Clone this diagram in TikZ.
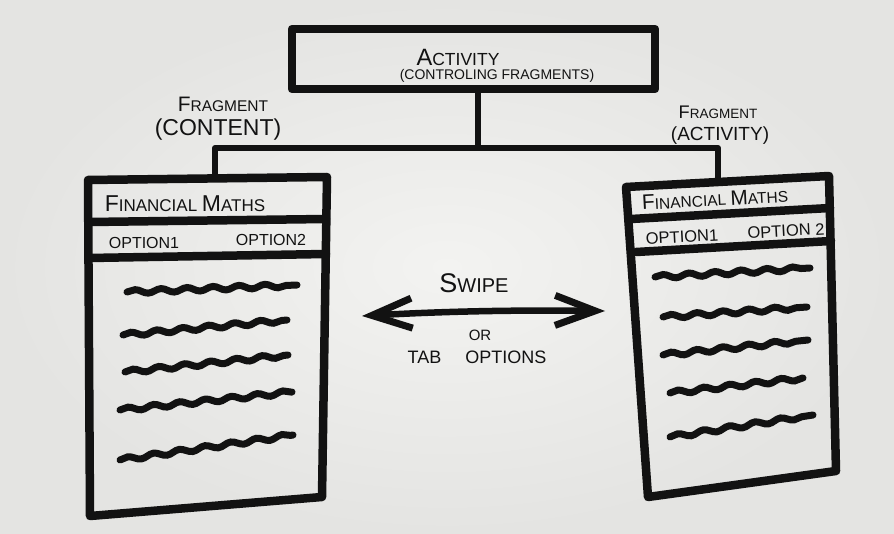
\documentclass[tikz,border=0pt]{standalone}
\usepackage{fontspec}
\setmainfont{Liberation Sans}
\usetikzlibrary{arrows.meta,decorations.pathmorphing}

% enlarged initial letter, marker-lettering style
\newcommand\capA[1]{\scalebox{1.35}{#1}}

\definecolor{paper}{RGB}{243,243,241}
\definecolor{paperedge}{RGB}{228,228,226}
\definecolor{ink}{RGB}{18,18,18}

\tikzset{
  marker/.style={draw=ink, line width=8.5pt, line cap=round, line join=round},
  link/.style={draw=ink, line width=6pt, line cap=round, line join=round},
  scrib/.style={draw=ink, line width=7pt, line cap=round,
    decorate, decoration={snake, amplitude=2pt, segment length=26pt}},
  hand/.style={inner sep=0pt, text=ink},
  barb/.tip={Straight Barb[length=40pt, width=30pt, line width=7pt]}
}

\begin{document}
\begin{tikzpicture}[x=1pt, y=-1pt]
  % paper
  \shade[inner color=paper, outer color=paperedge] (0,0) rectangle (894,534);
  \useasboundingbox (0,0) rectangle (894,534);

  % activity box
  \node[marker, rectangle, minimum width=363pt, minimum height=60pt] (act) at (473.5,59) {};
  \node[hand, font=\fontsize{17.5}{19}\selectfont] (actt1) at (458,57) {\capA{A}CTIVITY};
  \node[hand, font=\fontsize{14}{16}\selectfont] (actt2) at (497,76) {(CONTROLING FRAGMENTS)};

  % left panel outline and rows
  \coordinate (lTL) at (88,180);
  \coordinate (lTR) at (327,177);
  \coordinate (lBR) at (322,497);
  \coordinate (lBL) at (90,516);
  \draw[marker] (lTL) -- (lTR) -- (lBR) -- (lBL) -- cycle;
  \draw[marker] (89,222) -- (326,219);
  \draw[marker] (89,258) -- (326,254);

  % right panel outline and rows
  \coordinate (rTL) at (626,187);
  \coordinate (rTR) at (829,176);
  \coordinate (rBR) at (836,471);
  \coordinate (rBL) at (648,497);
  \draw[marker] (rTL) -- (rTR) -- (rBR) -- (rBL) -- cycle;
  \draw[marker] (631,219) -- (830,208);
  \draw[marker] (636,252) -- (831,241);

  % tree connectors
  \coordinate (jn) at (478,148);
  \coordinate (lptop) at (215,179);
  \coordinate (rptop) at (718,180);
  \draw[link] (act.south -| jn) -- (jn);
  \draw[link] (lptop) |- (jn) -| (rptop);

  % fragment labels
  \node[hand, font=\fontsize{15.5}{17}\selectfont] (fragL1) at (223,104) {\capA{F}RAGMENT};
  \node[hand, font=\fontsize{23}{25}\selectfont] (fragL2) at (218,130) {(CONTENT)};
  \node[hand, font=\fontsize{13.5}{15}\selectfont] (fragR1) at (718,112) {\capA{F}RAGMENT};
  \node[hand, font=\fontsize{19}{21}\selectfont] (fragR2) at (720,136) {(ACTIVITY)};

  % left panel texts
  \node[hand, font=\fontsize{17}{19}\selectfont] (lTitle) at (185,204) {\capA{F}INANCIAL \capA{M}ATHS};
  \node[hand, font=\fontsize{16}{18}\selectfont] (lOpt1) at (144,243) {OPTION1};
  \node[hand, font=\fontsize{16}{18}\selectfont] (lOpt2) at (271,240) {OPTION2};

  % right panel texts
  \node[hand, rotate=3, font=\fontsize{15.5}{17}\selectfont] (rTitle) at (715,199) {\capA{F}INANCIAL \capA{M}ATHS};
  \node[hand, rotate=3, font=\fontsize{16.5}{18}\selectfont] (rOpt1) at (682,237) {OPTION1};
  \node[hand, rotate=3, font=\fontsize{16.5}{18}\selectfont] (rOpt2) at (786,231) {OPTION 2};

  % scribbled content lines, left
  \draw[scrib] (127,292) -- (297,285);
  \draw[scrib] (123,335) -- (287,320);
  \draw[scrib] (125,372) -- (288,355);
  \draw[scrib] (120,410) -- (292,392);
  \draw[scrib] (120,460) -- (293,435);

  % scribbled content lines, right
  \draw[scrib] (655,277) -- (810,268);
  \draw[scrib] (663,317) -- (807,307);
  \draw[scrib] (663,355) -- (808,340);
  \draw[scrib] (670,393) -- (803,378);
  \draw[scrib] (670,437) -- (813,415);

  % swipe arrow
  \coordinate (aL) at (362,316);
  \coordinate (aR) at (605,311);
  \draw[draw=ink, line width=6.5pt, line cap=round, barb-barb]
    (aL) .. controls (450,311) and (520,310) .. (aR);
  \node[hand, font=\fontsize{20}{22}\selectfont] (swipe) at (474,283) {\capA{S}WIPE};
  \node[hand, font=\fontsize{15}{17}\selectfont] (or) at (480,335) {OR};
  \node[hand, font=\fontsize{18}{20}\selectfont] (tab) at (477,357) {TAB\hspace{24pt}OPTIONS};
\end{tikzpicture}
\end{document}
